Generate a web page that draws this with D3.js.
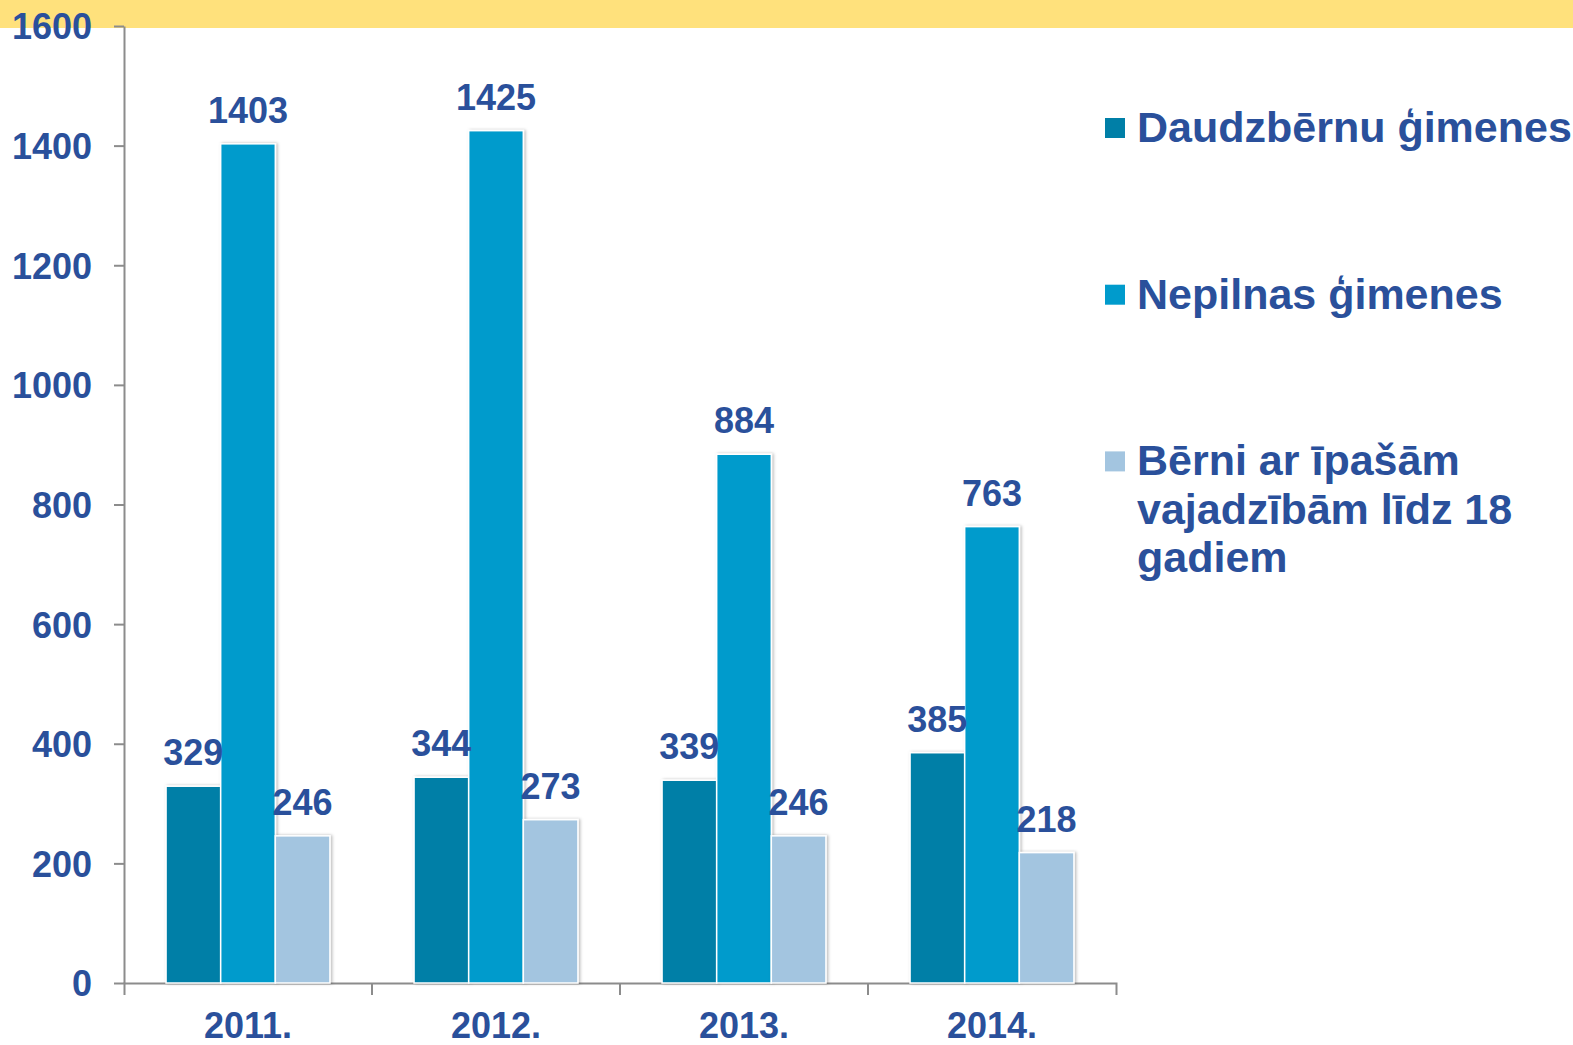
<!DOCTYPE html>
<html>
<head>
<meta charset="utf-8">
<script src="https://cdn.jsdelivr.net/npm/d3@7"></script>
<style>
  body { margin: 0; background: #fff; }
  text { font-family: "Liberation Sans", Arial, sans-serif; font-weight: bold; fill: #2a509b; }
</style>
</head>
<body>
<svg width="1573" height="1045"></svg>
<script>
// data
var years = ["2011.", "2012.", "2013.", "2014."];
var seriesNames = ["Daudzbērnu ģimenes", "Nepilnas ģimenes", "Bērni ar īpašām vajadzībām līdz 18 gadiem"];
var daudzbernu = [329, 344, 339, 385];
var nepilnas = [1403, 1425, 884, 763];
var berni = [246, 273, 246, 218];
var yTicks = [0, 200, 400, 600, 800, 1000, 1200, 1400, 1600];
var colors = ["#007fa7", "#009bcc", "#a3c5e0"];
var legendLines = [["Daudzbērnu ģimenes"], ["Nepilnas ģimenes"], ["Bērni ar īpašām", "vajadzībām līdz 18", "gadiem"]];

var svg = d3.select("svg"),
    margin = {top: 26, left: 124},
    w = 992,
    h = 957;

// yellow band on top
svg.append("rect")
    .attr("x", 0).attr("y", 0)
    .attr("width", 1573).attr("height", 28)
    .attr("fill", "#ffe17c");

var defs = svg.append("defs");
var f = defs.append("filter").attr("id", "shadow")
    .attr("x", "-20%").attr("y", "-5%").attr("width", "140%").attr("height", "110%");
f.append("feDropShadow")
    .attr("dx", 1.5).attr("dy", 0).attr("stdDeviation", 1.8)
    .attr("flood-color", "#000").attr("flood-opacity", 0.28);

var x0 = d3.scaleBand().domain(years).range([0, w]).padding(0);
var x1 = d3.scaleBand().domain(d3.range(3)).range([0, x0.bandwidth()])
    .paddingInner(0).paddingOuter(0.77);
var y = d3.scaleLinear().domain([0, 1600]).range([h, 0]);

var g = svg.append("g")
    .attr("transform", "translate(" + margin.left + "," + margin.top + ")");

// y axis
var yAxis = g.append("g")
    .call(d3.axisLeft(y).tickValues(yTicks).tickFormat(d3.format("d"))
      .tickSize(10).tickSizeOuter(0).tickPadding(22));
yAxis.selectAll("text").style("font-size", "36px").attr("dy", "0.36em");

// x axis
var xAxis = g.append("g")
    .attr("transform", "translate(0," + h + ")")
    .call(d3.axisBottom(x0).tickSize(0).tickSizeOuter(12));
xAxis.selectAll("text").style("font-size", "36px").attr("y", 55).attr("dy", 0);
xAxis.selectAll(".inner")
    .data(years.slice(1))
    .enter().append("line")
    .attr("x1", function(d) { return x0(d); })
    .attr("x2", function(d) { return x0(d); })
    .attr("y1", 0).attr("y2", 12);

svg.selectAll(".domain, .tick line, line").attr("stroke", "#8c8c8c").attr("stroke-width", 2);
svg.selectAll(".tick text").attr("fill", "#2a509b");

var allSeries = [daudzbernu, nepilnas, berni];

var groups = g.selectAll(".grp")
    .data(years)
    .enter().append("g")
    .attr("transform", function(d) { return "translate(" + x0(d) + ",0)"; });

groups.selectAll("rect")
    .data(function(d, i) { return allSeries.map(function(s, k) { return {k: k, v: s[i]}; }); })
    .enter().append("rect")
    .attr("x", function(d) { return x1(d.k); })
    .attr("y", function(d) { return y(d.v); })
    .attr("width", x1.bandwidth())
    .attr("height", function(d) { return h - y(d.v); })
    .attr("fill", function(d) { return colors[d.k]; })
    .attr("stroke", "#fff")
    .attr("stroke-width", 1.5)
    .attr("filter", "url(#shadow)");

groups.selectAll(".lbl")
    .data(function(d, i) { return allSeries.map(function(s, k) { return {k: k, v: s[i]}; }); })
    .enter().append("text")
    .attr("x", function(d) { return x1(d.k) + x1.bandwidth() / 2; })
    .attr("y", function(d) { return y(d.v) - 21; })
    .attr("text-anchor", "middle")
    .style("font-size", "36px")
    .text(function(d) { return d.v; });

// legend
var legend = svg.append("g").attr("transform", "translate(1105,0)");
var items = legend.selectAll(".item")
    .data(seriesNames)
    .enter().append("g")
    .attr("transform", function(d, i) { return "translate(0," + (142 + i * 166.7) + ")"; });

items.append("rect")
    .attr("x", 0).attr("y", -24)
    .attr("width", 20).attr("height", 20)
    .attr("fill", function(d, i) { return colors[i]; });

items.append("text")
    .style("font-size", "43px")
    .selectAll("tspan")
    .data(function(d, i) { return legendLines[i]; })
    .enter().append("tspan")
    .attr("x", 32)
    .attr("dy", function(d, j) { return j === 0 ? 0 : 48.5; })
    .text(function(d) { return d; });
</script>
</body>
</html>
